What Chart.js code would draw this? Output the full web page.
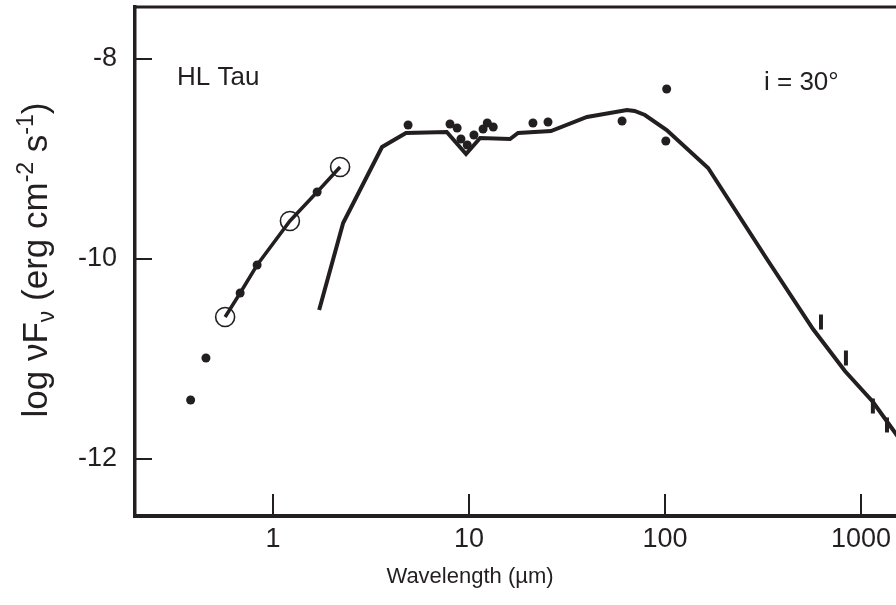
<!DOCTYPE html>
<html>
<head>
<meta charset="utf-8">
<script src="https://cdn.jsdelivr.net/npm/chart.js@4.4.1/dist/chart.umd.min.js"></script>
<style>
  html, body { margin: 0; padding: 0; background: #fff; overflow: hidden; }
  #wrap { width: 896px; height: 605px; }
</style>
</head>
<body>
<div id="wrap"><canvas id="sed"></canvas></div>
<script>
// HL Tau SED: model curve + observed photometry
const INK = '#231f20';
const FONT = '"Liberation Sans", Arial, Helvetica, sans-serif';

// model SED (i = 30 deg)
const modelWave = [1.72, 2.28, 3.6, 4.77, 7.7, 9.66, 11.4, 16.2, 17.8, 26.2, 40, 64, 70, 79, 102, 166, 331, 569, 828, 1152, 1600];
const modelFlux = [-10.51, -9.64, -8.88, -8.74, -8.73, -8.95, -8.79, -8.80, -8.74, -8.72, -8.58, -8.51, -8.52, -8.56, -8.71, -9.09, -10.0, -10.70, -11.12, -11.43, -11.82];

// short line through the near-IR photometry
const fitWave = [0.57, 0.68, 0.83, 1.22, 1.68, 2.2];
const fitFlux = [-10.58, -10.34, -10.06, -9.62, -9.33, -9.08];

// filled dots
const dotWave = [0.38, 0.455, 0.68, 0.83, 1.68, 4.89, 8.0, 8.7, 9.1, 9.8, 10.6, 11.8, 12.4, 13.3, 21.2, 25.3, 60.4, 102, 101];
const dotFlux = [-11.41, -10.99, -10.34, -10.06, -9.33, -8.66, -8.65, -8.69, -8.80, -8.86, -8.76, -8.70, -8.64, -8.68, -8.64, -8.63, -8.62, -8.30, -8.82];

// open circles
const circleWave = [0.57, 1.22, 2.2];
const circleFlux = [-10.58, -9.62, -9.08];

// submm points drawn as short bars
const barWave = [625, 838, 1150, 1358];
const barFlux = [-10.63, -10.99, -11.47, -11.66];

const xTicks = [1, 10, 100, 1000];
const yTicks = [-8, -10, -12];

const pts = (xs, ys) => xs.map((x, i) => ({ x, y: ys[i] }));

// inward tick marks, top frame line, in-plot labels, axis titles
const frame = {
  id: 'frame',
  afterDraw(chart) {
    const { ctx, chartArea: a, scales } = chart;
    ctx.save();
    ctx.strokeStyle = INK;
    ctx.lineWidth = 2;
    ctx.beginPath();
    xTicks.forEach(v => {
      const px = Math.round(scales.x.getPixelForValue(v));
      ctx.moveTo(px, a.bottom);
      ctx.lineTo(px, a.bottom - 22);
    });
    yTicks.forEach(v => {
      const py = Math.round(scales.y.getPixelForValue(v));
      ctx.moveTo(a.left, py);
      ctx.lineTo(a.left + 17, py);
    });
    ctx.stroke();
    ctx.lineWidth = 3;
    ctx.beginPath();
    ctx.moveTo(a.left - 1.5, a.top);
    ctx.lineTo(a.right + 2, a.top);
    ctx.stroke();

    ctx.fillStyle = INK;
    ctx.font = `26px ${FONT}`;
    ctx.textBaseline = 'alphabetic';
    ctx.textAlign = 'left';
    ctx.fillText('HL Tau', 177, 85);
    ctx.fillText('i = 30°', 764, 90);

    ctx.font = `22px ${FONT}`;
    ctx.textAlign = 'center';
    ctx.fillText('Wavelength (µm)', 470, 583);

    // y title with sub/superscripts
    const parts = [
      ['log νF', 0], ['ν', 1], [' (erg cm', 0], ['-2', -1], [' s', 0], ['-1', -1], [')', 0]
    ];
    const big = `35px ${FONT}`, small = `23px ${FONT}`;
    ctx.textAlign = 'left';
    let total = 0;
    parts.forEach(([t, k]) => { ctx.font = k ? small : big; total += ctx.measureText(t).width; });
    ctx.translate(47, 260);
    ctx.rotate(-Math.PI / 2);
    let cx = -total / 2;
    parts.forEach(([t, k]) => {
      ctx.font = k ? small : big;
      ctx.fillText(t, cx, k === 1 ? 7 : k === -1 ? -14 : 0);
      cx += ctx.measureText(t).width;
    });
    ctx.restore();
  }
};

new Chart(document.getElementById('sed'), {
  type: 'scatter',
  data: {
    datasets: [
      { data: pts(modelWave, modelFlux), showLine: true, borderColor: INK, borderWidth: 4, pointRadius: 0, borderJoinStyle: 'miter' },
      { data: pts(fitWave, fitFlux), showLine: true, borderColor: INK, borderWidth: 3.5, pointRadius: 0 },
      { data: pts(dotWave, dotFlux), pointRadius: 4.5, backgroundColor: INK, borderWidth: 0 },
      { data: pts(circleWave, circleFlux), pointRadius: 9.5, backgroundColor: 'rgba(0,0,0,0)', borderColor: INK, borderWidth: 1.6 },
      { data: pts(barWave, barFlux), pointStyle: 'line', rotation: 90, pointRadius: 7.5, borderColor: INK, borderWidth: 4 }
    ]
  },
  options: {
    responsive: true,
    maintainAspectRatio: false,
    animation: false,
    events: [],
    layout: { autoPadding: false, padding: { top: 7, right: 0, bottom: 0, left: 0 } },
    plugins: { legend: { display: false }, tooltip: { enabled: false } },
    scales: {
      x: {
        type: 'logarithmic',
        min: 0.1977,
        max: 1509,
        afterBuildTicks: s => { s.ticks = xTicks.map(v => ({ value: v })); },
        afterFit: s => { s.height = 89; s.paddingLeft = 0; s.paddingRight = 0; },
        grid: { display: false, drawTicks: false },
        border: { display: true, color: INK, width: 4 },
        ticks: { color: INK, font: { family: FONT, size: 27 }, padding: 7, maxRotation: 0, callback: v => String(v) },
        title: { display: false }
      },
      y: {
        min: -12.57,
        max: -7.48,
        afterBuildTicks: s => { s.ticks = yTicks.map(v => ({ value: v })); },
        afterFit: s => { s.width = 135; s.paddingTop = 0; s.paddingBottom = 0; },
        grid: { display: false, drawTicks: false },
        border: { display: true, color: INK, width: 3.5 },
        ticks: { color: INK, font: { family: FONT, size: 27 }, padding: 18, callback: v => String(v) }
      }
    }
  },
  plugins: [frame]
});
</script>
</body>
</html>
